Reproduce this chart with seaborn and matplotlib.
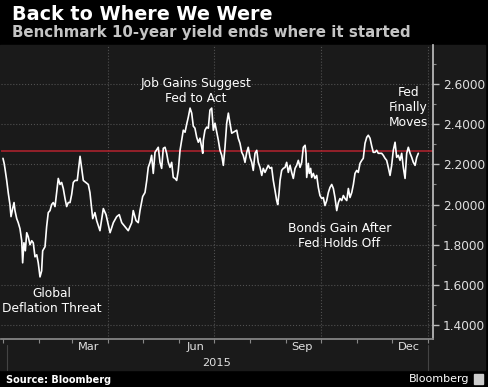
import numpy as np
import pandas as pd
import matplotlib
matplotlib.use("Agg")
import matplotlib.pyplot as plt
import matplotlib.dates as mdates
from matplotlib.patches import Rectangle
from matplotlib.lines import Line2D
from matplotlib.ticker import MultipleLocator
import seaborn as sns

# days after 2015-01-01 and the 10-year yield
days = [0, 1.0, 1.7, 3.2, 4.6, 6.0, 6.9, 8.3, 9.5, 10.3,
        11.8, 13.1, 14.6, 16.1, 16.9, 18.0, 19.2, 20.4, 21.7, 23.2,
        24.7, 26.0, 27.5, 29.0, 30.3, 31.8, 33.2, 34.1, 36.1, 37.5,
        38.9, 40.4, 41.8, 43.2, 44.7, 46.1, 47.5, 49.0, 50.4, 51.8,
        53.3, 54.7, 56.1, 57.6, 59.0, 60.4, 61.9, 63.8, 66.2,
        69.0, 73.3, 74.7, 77.1, 79.0, 80.5, 83.3, 86.2, 88.5, 92.0,
        94.8, 97.7, 99.9, 102.0, 104.8, 107.6, 110.6, 111.9, 114.3, 116.2,
        117.7, 120.0, 122.0, 123.5, 124.8,
        126.3, 127.7, 129.1, 130.6, 133.4, 134.9, 136.3, 137.7, 139.2, 140.6,
        142.0, 143.5, 144.9, 146.3, 147.8, 149.2, 150.6, 152.1, 153.5, 154.9,
        156.4, 157.8, 159.2, 160.7, 162.1, 163.5, 164.9, 166.4, 167.8, 169.2,
        170.7, 171.6, 172.1, 173.5, 175.0, 176.4, 177.8, 179.3, 180.7, 182.1,
        183.6, 185.0, 186.4, 187.9, 189.3, 190.7, 192.2, 193.6, 195.0, 196.5,
        197.9, 200.8, 202.1, 203.6, 205.1, 206.4, 207.9, 209.4, 210.7, 212.2,
        213.7, 215.0, 216.5, 218.0, 219.3, 220.8, 222.3, 223.6, 225.1, 227.9,
        229.4, 230.8, 232.2, 233.7, 235.1, 236.0, 237.1, 238.0, 239.4, 240.8,
        242.3, 243.7, 245.1, 246.6, 248.0, 249.4, 250.9, 252.3, 253.7, 255.2,
        256.6, 258.0, 259.5, 260.3, 260.9, 262.3, 263.1, 264.3, 265.2, 266.6,
        268.0, 269.5, 270.9, 272.3, 273.8, 275.2, 276.6, 278.1, 279.5, 280.9,
        282.4, 283.8, 285.2, 286.7, 288.1, 289.5, 291.0, 292.4, 293.8, 295.3,
        296.7, 298.1, 299.6, 301.0, 302.4, 303.9, 305.2, 306.7, 308.2, 309.5,
        311.0, 312.5, 313.8, 315.3, 316.8, 318.1, 319.6, 321.0, 322.4, 323.9,
        325.3, 326.7, 328.2, 329.6, 331.0, 332.5, 333.9, 335.3, 336.8, 338.2,
        339.6, 341.1, 342.5, 343.9, 345.4, 346.8, 348.2, 349.7, 351.1, 352.5,
        354.0, 355.4, 356.8]

yields = [2.23, 2.205, 2.18, 2.12, 2.055, 2.00, 1.94, 1.98, 2.01, 1.97,
          1.93, 1.91, 1.88, 1.82, 1.71, 1.81, 1.77, 1.86, 1.84, 1.80,
          1.82, 1.81, 1.74, 1.75, 1.71, 1.64, 1.67, 1.77, 1.79, 1.89,
          1.96, 1.97, 2.00, 2.01, 1.99, 2.06, 2.13, 2.10, 2.11, 2.08,
          2.03, 1.99, 2.01, 2.01, 2.05, 2.11, 2.12, 2.12, 2.24,
          2.12, 2.10, 2.06, 1.93, 1.96, 1.92, 1.87, 1.98, 1.95, 1.86,
          1.91, 1.94, 1.95, 1.91, 1.89, 1.87, 1.91, 1.97, 1.92, 1.91,
          1.97, 2.04, 2.06, 2.12, 2.185,
          2.21, 2.245, 2.155, 2.26, 2.285, 2.21, 2.18, 2.28, 2.285, 2.255,
          2.21, 2.185, 2.21, 2.135, 2.13, 2.12, 2.17, 2.27, 2.32, 2.37,
          2.36, 2.40, 2.435, 2.48, 2.455, 2.39, 2.38, 2.335, 2.31, 2.33,
          2.285, 2.255, 2.32, 2.37, 2.385, 2.38, 2.47, 2.48, 2.37, 2.405,
          2.36, 2.32, 2.27, 2.245, 2.195, 2.285, 2.405, 2.455, 2.405, 2.355,
          2.36, 2.37, 2.33, 2.305, 2.26, 2.245, 2.21, 2.26, 2.285, 2.235,
          2.21, 2.17, 2.255, 2.27, 2.21, 2.185, 2.145, 2.18, 2.16, 2.195,
          2.18, 2.185, 2.12, 2.07, 2.02, 2.00, 2.055, 2.12, 2.17, 2.18,
          2.185, 2.21, 2.16, 2.195, 2.16, 2.13, 2.18, 2.195, 2.22, 2.185,
          2.21, 2.285, 2.295, 2.255, 2.135, 2.205, 2.155, 2.18, 2.135, 2.155,
          2.13, 2.145, 2.085, 2.045, 2.03, 2.035, 1.995, 2.02, 2.06, 2.085,
          2.10, 2.08, 2.035, 1.97, 2.01, 2.03, 2.02, 2.045, 2.03, 2.02,
          2.08, 2.035, 2.06, 2.10, 2.155, 2.17, 2.16, 2.205, 2.22, 2.23,
          2.305, 2.335, 2.345, 2.33, 2.29, 2.26, 2.26, 2.27, 2.255, 2.255,
          2.255, 2.245, 2.23, 2.22, 2.185, 2.145, 2.195, 2.27, 2.31, 2.235,
          2.245, 2.22, 2.255, 2.185, 2.13, 2.255, 2.285, 2.255, 2.235, 2.21,
          2.195, 2.235, 2.255]

start_level = 2.265
y_ticks = [1.4, 1.6, 1.8, 2.0, 2.2, 2.4, 2.6]
month_labels = ["Mar", "Jun", "Sep", "Dec"]
label_dates = ["2015-03-16", "2015-06-15", "2015-09-15", "2015-12-16"]
quarter_lines = ["2015-04-01", "2015-07-01", "2015-10-01", "2016-01-01"]

t0 = pd.Timestamp("2015-01-01")
df = pd.DataFrame({"date": t0 + pd.to_timedelta(days, unit="D"), "yield": yields})

sns.set_theme(style="dark")
plt.rcParams["font.family"] = ["DejaVu Sans"]

W, H = 488, 387
panel = "#1a1a1a"
fig = plt.figure(figsize=(W / 100, H / 100), dpi=100, facecolor="black")
fig.patches.append(Rectangle((0, 1 - 370 / H), 485 / W, 325 / H,
                             transform=fig.transFigure, color=panel, zorder=-10))

ax = fig.add_axes([1 / W, 1 - 339 / H, 432 / W, 294 / H])
ax.set_zorder(1)
ax.set_facecolor(panel)

for d in quarter_lines:
    ax.axvline(pd.Timestamp(d), color="#505050", lw=0.8, ls=":", zorder=1)
for v in y_ticks:
    ax.axhline(v, color="#505050", lw=0.8, ls=":", zorder=1)

ax.axhline(start_level, color="#b5232e", lw=1.1, zorder=2)
sns.lineplot(data=df, x="date", y="yield", color="white", linewidth=1.2, ax=ax, zorder=3)

ax.set_xlim(t0 - pd.Timedelta(days=1.7), t0 + pd.Timedelta(days=369.4))
ax.set_ylim(1.331, 2.794)
ax.set_xlabel("")
ax.set_ylabel("")

# y axis on the right
ax.yaxis.tick_right()
ax.set_yticks(y_ticks)
ax.set_yticklabels([f"{v:.4f}" for v in y_ticks])
ax.yaxis.set_minor_locator(MultipleLocator(0.1))
ax.tick_params(axis="y", which="major", right=True, left=False, length=4, width=1,
               color="#bbbbbb", labelcolor="#e0e0e0", labelsize=8.7, pad=3)
ax.tick_params(axis="y", which="minor", right=True, left=False, length=2.5, width=0.8,
               color="#888888")

# x axis: small ticks at month starts, labels mid-month
ax.xaxis.set_major_locator(mdates.MonthLocator())
ax.xaxis.set_major_formatter(plt.NullFormatter())
ax.set_xticks([pd.Timestamp(d) for d in label_dates], minor=True)
ax.set_xticklabels(month_labels, minor=True)
ax.tick_params(axis="x", which="major", bottom=True, length=3, width=0.8, color="#888888")
ax.tick_params(axis="x", which="minor", bottom=True, length=0, labelcolor="#e0e0e0",
               labelsize=8.2, pad=2)
ax.grid(False)

for s in ["left", "top"]:
    ax.spines[s].set_visible(False)
ax.spines["right"].set_color("#bbbbbb")
ax.spines["bottom"].set_color("#888888")

# annotations
ax.text(mdates.date2num(pd.Timestamp("2015-02-12")), 1.52, "Global\nDeflation Threat",
        color="white", fontsize=8.8, ha="center", va="center")
ax.text(mdates.date2num(pd.Timestamp("2015-06-16")), 2.565, "Job Gains Suggest\nFed to Act",
        color="white", fontsize=8.8, ha="center", va="center")
ax.text(mdates.date2num(pd.Timestamp("2015-10-17")), 1.846, "Bonds Gain After\nFed Holds Off",
        color="white", fontsize=8.8, ha="center", va="center")
ax.text(mdates.date2num(pd.Timestamp("2015-12-15")), 2.485, "Fed\nFinally\nMoves",
        color="white", fontsize=8.8, ha="center", va="center")

# year row
fig.text(217 / W, 1 - 363 / H, "2015", color="#e0e0e0", fontsize=8.2, ha="center", va="center")
for xp in [7, 428]:
    fig.add_artist(Line2D([xp / W, xp / W], [1 - 345 / H, 1 - 370 / H],
                          transform=fig.transFigure, color="#444444", lw=0.8))

# titles and footer
fig.text(12 / W, 1 - 15 / H, "Back to Where We Were", color="white", fontsize=13.8,
         fontweight="bold", ha="left", va="center")
fig.text(12 / W, 1 - 32 / H, "Benchmark 10-year yield ends where it started", color="#c4c4c4",
         fontsize=10.8, fontweight="bold", ha="left", va="center")
fig.text(6 / W, 1 - 380 / H, "Source: Bloomberg", color="white", fontsize=7,
         fontweight="bold", ha="left", va="center")
fig.text(469 / W, 1 - 379 / H, "Bloomberg", color="white", fontsize=8,
         ha="right", va="center")
fig.patches.append(Rectangle((474 / W, 1 - 384 / H), 9 / W, 10 / H,
                             transform=fig.transFigure, color="#cccccc", zorder=2))

fig.savefig("out.png", dpi=100, facecolor=fig.get_facecolor())
